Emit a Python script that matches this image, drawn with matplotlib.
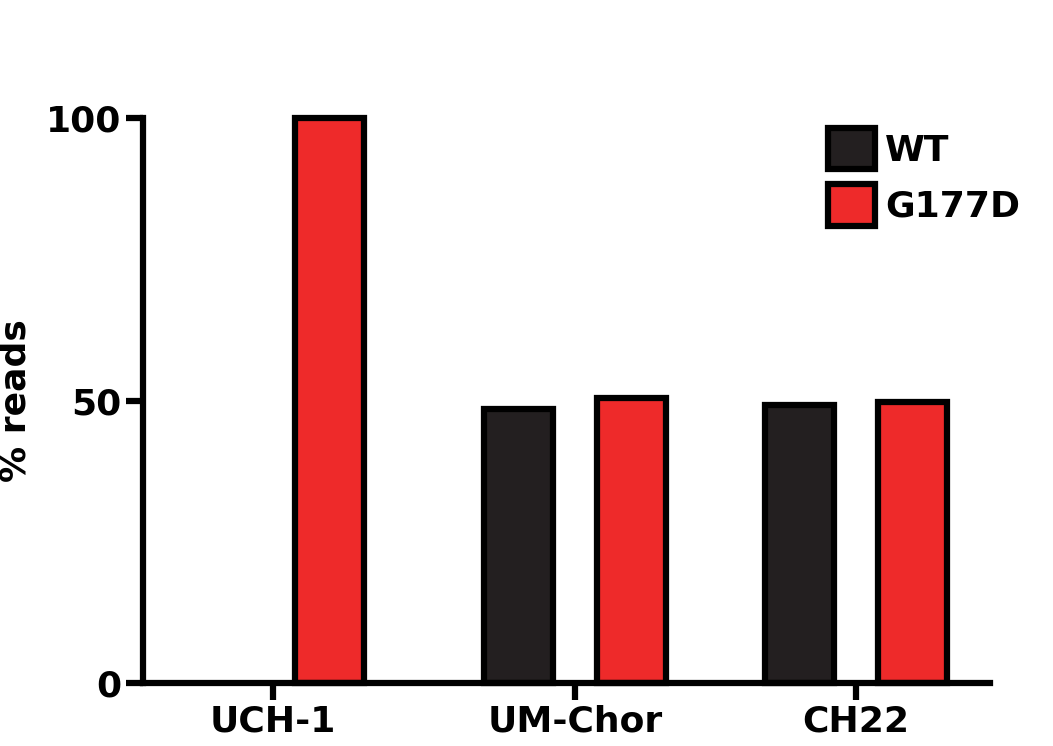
import matplotlib
matplotlib.use("Agg")
import matplotlib.pyplot as plt
from matplotlib.patches import Patch

categories = ["UCH-1", "UM-Chor", "CH22"]
wt = [0, 48.5, 49.2]
g177d = [100, 50.4, 49.8]

pos = [0, 1, 1.93]
w = 0.23
off = 0.187

fig = plt.figure(figsize=(10.53, 7.46), dpi=100)
ax = fig.add_axes([0.136, 0.084, 0.804, 0.758])
lw = 4.5
for p, a, b in zip(pos, wt, g177d):
    if a > 0:
        ax.bar(p - off, a, w, color="#231f20", edgecolor="black", linewidth=lw, clip_on=False)
    ax.bar(p + off, b, w, color="#ee2a2a", edgecolor="black", linewidth=lw, clip_on=False)

ax.set_xlim(-0.43, 2.374)
ax.set_ylim(0, 100)
ax.set_yticks([0, 50, 100])
ax.set_xticks(pos)
ax.set_xticklabels(categories)
for s in ["top", "right"]:
    ax.spines[s].set_visible(False)
for s in ["left", "bottom"]:
    ax.spines[s].set_linewidth(lw)
ax.tick_params(width=lw, length=12, labelsize=26, direction="out")
for t in ax.get_xticklabels() + ax.get_yticklabels():
    t.set_fontweight("bold")
ax.set_ylabel("% reads", fontsize=26, fontweight="bold", labelpad=10)

handles = [Patch(facecolor="#231f20", edgecolor="black", linewidth=lw, label="WT"),
           Patch(facecolor="#ee2a2a", edgecolor="black", linewidth=lw, label="G177D")]
leg = ax.legend(handles=handles, loc="upper left", bbox_to_anchor=(0.77, 1.04),
                frameon=False, prop={"size": 26, "weight": "bold"},
                handlelength=1.3, handleheight=1.4, handletextpad=0.3, labelspacing=0.4)

fig.savefig("out.png", dpi=100)
